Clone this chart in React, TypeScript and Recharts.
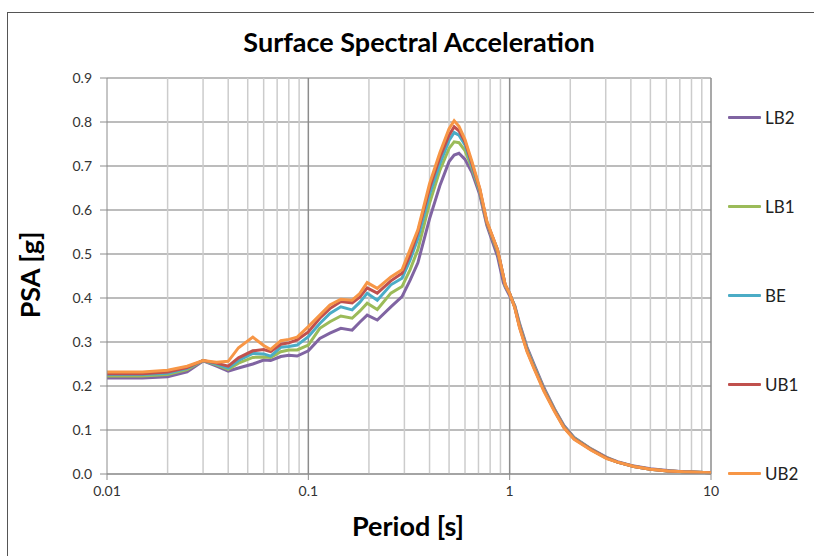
import React from "react";
import {
  CartesianGrid,
  Line,
  LineChart,
  ReferenceLine,
  XAxis,
  YAxis,
} from "recharts";

// Periods [s]
const periods = [
  0.01, 0.015, 0.02, 0.025, 0.03, 0.035, 0.04, 0.045, 0.053, 0.06, 0.065, 0.073,
  0.08, 0.088, 0.1, 0.114, 0.128, 0.145, 0.165, 0.18, 0.196, 0.22, 0.257, 0.292,
  0.32, 0.35, 0.4, 0.45, 0.5, 0.53, 0.56, 0.6, 0.65, 0.71, 0.77, 0.87, 0.93,
  0.95, 1.0, 1.06, 1.12, 1.22, 1.32, 1.48, 1.67, 1.86, 2.09, 2.54, 3.03, 3.43,
  4.14, 5.0, 6.1, 7.3, 10,
];

const lb2 = [
  0.218, 0.218, 0.221, 0.232, 0.257, 0.245, 0.234, 0.241, 0.25, 0.259, 0.258,
  0.267, 0.27, 0.268, 0.28, 0.308, 0.32, 0.331, 0.327, 0.345, 0.361, 0.35, 0.38,
  0.403, 0.44, 0.48, 0.58, 0.655, 0.71, 0.725, 0.729, 0.715, 0.685, 0.635,
  0.565, 0.495, 0.435, 0.425, 0.405, 0.383, 0.342, 0.288, 0.25, 0.196, 0.148,
  0.11, 0.083, 0.057, 0.038, 0.028, 0.018, 0.012, 0.008, 0.005, 0.003,
];

const lb1 = [
  0.223, 0.223, 0.226, 0.237, 0.258, 0.248, 0.238, 0.252, 0.265, 0.266, 0.265,
  0.278, 0.282, 0.282, 0.293, 0.331, 0.346, 0.359, 0.354, 0.37, 0.388, 0.374,
  0.411, 0.426, 0.464, 0.51, 0.615, 0.69, 0.74, 0.755, 0.753, 0.735, 0.695,
  0.642, 0.57, 0.505, 0.448, 0.428, 0.41, 0.381, 0.338, 0.284, 0.246, 0.193,
  0.146, 0.108, 0.082, 0.056, 0.037, 0.027, 0.017, 0.011, 0.007, 0.005, 0.003,
];

const be = [
  0.226, 0.226, 0.229, 0.24, 0.258, 0.25, 0.241, 0.258, 0.274, 0.273, 0.268,
  0.288, 0.29, 0.293, 0.312, 0.342, 0.365, 0.38, 0.373, 0.39, 0.411, 0.395,
  0.43, 0.445, 0.486, 0.535, 0.635, 0.705, 0.758, 0.776, 0.77, 0.748, 0.7,
  0.645, 0.572, 0.51, 0.45, 0.428, 0.41, 0.38, 0.336, 0.282, 0.244, 0.191,
  0.145, 0.107, 0.081, 0.055, 0.036, 0.027, 0.017, 0.011, 0.007, 0.005, 0.003,
];

const ub1 = [
  0.228, 0.228, 0.232, 0.242, 0.258, 0.252, 0.245, 0.264, 0.28, 0.283, 0.278,
  0.295, 0.298, 0.305, 0.323, 0.354, 0.376, 0.392, 0.389, 0.402, 0.423, 0.411,
  0.439, 0.456, 0.498, 0.55, 0.65, 0.72, 0.77, 0.789, 0.78, 0.755, 0.705,
  0.648, 0.572, 0.51, 0.45, 0.43, 0.41, 0.379, 0.334, 0.28, 0.242, 0.19, 0.144,
  0.106, 0.08, 0.055, 0.036, 0.027, 0.017, 0.011, 0.007, 0.005, 0.003,
];

const ub2 = [
  0.232, 0.232, 0.236, 0.245, 0.258, 0.254, 0.256, 0.287, 0.311, 0.292, 0.283,
  0.303, 0.306, 0.311, 0.335, 0.361, 0.384, 0.397, 0.395, 0.41, 0.435, 0.422,
  0.448, 0.464, 0.51, 0.555, 0.66, 0.73, 0.785, 0.803, 0.79, 0.76, 0.71, 0.65,
  0.575, 0.51, 0.45, 0.43, 0.41, 0.378, 0.332, 0.278, 0.24, 0.188, 0.142, 0.105,
  0.079, 0.054, 0.035, 0.027, 0.017, 0.011, 0.007, 0.005, 0.003,
];

const seriesNames = ["LB2", "LB1", "BE", "UB1", "UB2"];
const seriesColors = ["#8064A2", "#9BBB59", "#4BACC6", "#C0504D", "#F79646"];
const seriesValues = [lb2, lb1, be, ub1, ub2];

const xTicks = [0.01, 0.1, 1, 10];
const minorTicks = [
  0.02, 0.03, 0.04, 0.05, 0.06, 0.07, 0.08, 0.09, 0.2, 0.3, 0.4, 0.5, 0.6, 0.7,
  0.8, 0.9, 2, 3, 4, 5, 6, 7, 8, 9,
];
const yTicks = [0, 0.1, 0.2, 0.3, 0.4, 0.5, 0.6, 0.7, 0.8, 0.9];

const data = periods.map((t, i) => {
  const row: Record<string, number> = { period: t };
  seriesNames.forEach((name, s) => {
    row[name] = seriesValues[s][i];
  });
  return row;
});

const FONT = "Lato, 'Open Sans', sans-serif";

export default function App() {
  return (
    <div
      style={{
        position: "absolute",
        left: 0,
        top: 0,
        width: 814,
        height: 556,
        background: "#fff",
        overflow: "hidden",
        fontFamily: FONT,
      }}
    >
      {/* chart frame */}
      <div
        style={{
          position: "absolute",
          left: 7,
          top: 12,
          width: 830,
          height: 570,
          border: "1px solid #555",
        }}
      />
      <div
        style={{
          position: "absolute",
          left: 0,
          top: 25,
          width: 838,
          textAlign: "center",
          fontSize: 27,
          lineHeight: "34px",
          fontWeight: 700,
          color: "#000",
        }}
      >
        Surface Spectral Acceleration
      </div>
      <div
        style={{
          position: "absolute",
          left: 0,
          top: 509,
          width: 816,
          textAlign: "center",
          fontSize: 27,
          lineHeight: "34px",
          fontWeight: 700,
          color: "#000",
        }}
      >
        Period [s]
      </div>
      <div
        style={{
          position: "absolute",
          left: 30,
          top: 275,
          transform: "translate(-50%, -50%) rotate(-90deg)",
          fontSize: 27,
          lineHeight: "34px",
          fontWeight: 700,
          whiteSpace: "nowrap",
          color: "#000",
        }}
      >
        PSA [g]
      </div>

      <LineChart
        width={814}
        height={556}
        data={data}
        margin={{ top: 78, right: 103, bottom: 52, left: 47 }}
        style={{ position: "absolute", left: 0, top: 0 }}
      >
        <CartesianGrid vertical={false} stroke="#a6a6a6" strokeWidth={1.5} />
        {minorTicks.map((v) => (
          <ReferenceLine key={v} x={v} stroke="#cccccc" strokeWidth={1.5} />
        ))}
        {xTicks.slice(1).map((v) => (
          <ReferenceLine
            key={"d" + v}
            x={v}
            stroke="#8c8c8c"
            strokeWidth={1.5}
          />
        ))}
        <XAxis
          dataKey="period"
          type="number"
          scale="log"
          domain={[0.01, 10]}
          ticks={xTicks}
          allowDataOverflow
          height={30}
          stroke="#8c8c8c"
          tickSize={6}
          tickMargin={6}
          tick={{ fill: "#333", fontSize: 14, fontFamily: FONT }}
          tickFormatter={(v: number) => String(v)}
        />
        <YAxis
          type="number"
          domain={[0, 0.9]}
          ticks={yTicks}
          width={60}
          stroke="#8c8c8c"
          tickSize={7}
          tickMargin={8}
          tick={{ fill: "#333", fontSize: 14, fontFamily: FONT }}
          tickFormatter={(v: number) => v.toFixed(1)}
        />
        {seriesNames.map((name, s) => (
          <Line
            key={name}
            type="linear"
            dataKey={name}
            stroke={seriesColors[s]}
            strokeWidth={3}
            dot={false}
            isAnimationActive={false}
          />
        ))}
      </LineChart>

      {/* legend */}
      {seriesNames.map((name, s) => (
        <div
          key={name}
          style={{
            position: "absolute",
            left: 728,
            top: 117 + s * 89 - 10,
            height: 20,
            display: "flex",
            alignItems: "center",
            fontSize: 17,
            color: "#222",
          }}
        >
          <span
            style={{
              display: "inline-block",
              width: 33,
              height: 3,
              background: seriesColors[s],
              borderRadius: 1,
              marginRight: 4,
            }}
          />
          {name}
        </div>
      ))}
    </div>
  );
}
